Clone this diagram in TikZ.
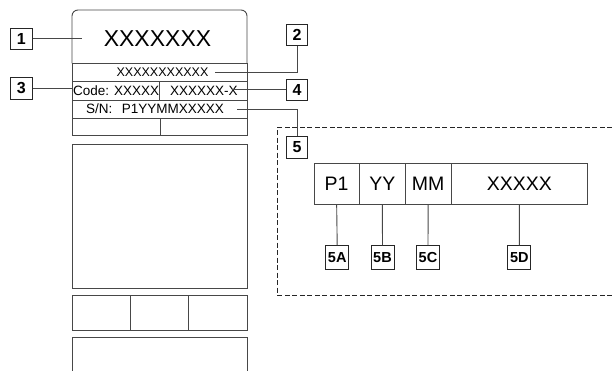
\documentclass[tikz,border=0pt]{standalone}
\usepackage{fontspec}
\setmainfont{Liberation Sans}
\begin{document}
\begin{tikzpicture}[x=1pt,y=-1pt,
  lc/.style={draw=black!72,line width=0.9pt},
  lab/.style={draw=black!85,line width=0.9pt,minimum width=21.5pt,minimum height=21.5pt,inner sep=0pt,font=\fontsize{16}{16}\selectfont\bfseries},
  sublab/.style={draw=black!85,line width=0.9pt,minimum width=23pt,minimum height=23.6pt,inner sep=0pt,font=\fontsize{14.5}{14.5}\selectfont\bfseries},
  cell/.style={draw=black!72,line width=0.9pt,minimum height=40.7pt,inner sep=0pt,font=\fontsize{19.5}{19.5}\selectfont},
  lead/.style={draw=black!72,line width=0.9pt},
  txt/.style={inner sep=0pt,anchor=base}]
\useasboundingbox (0,0) rectangle (612,371);
% main label plate
\draw[lc,rounded corners=6pt] (72,63.3) -- (72,10) -- (247,10) -- (247,63.3);
\draw[lc] (72,63.3) -- (72,135) -- (247,135) -- (247,63.3);
\draw[lc] (72,63.3) -- (247,63.3);
\draw[lc] (72,81.7) -- (247,81.7);
\draw[lc] (72,100) -- (247,100);
\draw[lc] (72,118.3) -- (247,118.3);
\draw[lc] (159.5,81.7) -- (159.5,100);
\draw[lc] (160,118.3) -- (160,135);
% texts
\node[txt,font=\fontsize{23}{23}\selectfont] (tbig) at (157.5,47) {XXXXXXX};
\node[txt,font=\fontsize{12.5}{12.5}\selectfont] (trow) at (162.5,76.6) {XXXXXXXXXXX};
\node[txt,font=\fontsize{13.5}{13.5}\selectfont,anchor=base west] (tcode) at (73,95.3) {Code: XXXXX};
\node[txt,font=\fontsize{13.5}{13.5}\selectfont,anchor=base west] (tver) at (170,95.3) {XXXXXX-X};
\node[txt,font=\fontsize{13.5}{13.5}\selectfont,anchor=base west] (tsn) at (86,113.6) {S/N:};
\node[txt,font=\fontsize{13.5}{13.5}\selectfont,anchor=base west] (tser) at (121.7,113.6) {P1YYMMXXXXX};
% lower boxes
\draw[lc] (72.3,144) rectangle (247,288);
\draw[lc] (72.3,295.7) rectangle (247,330);
\draw[lc] (130.3,295.7) -- (130.3,330);
\draw[lc] (188.7,295.7) -- (188.7,330);
\draw[lc] (72.3,371) -- (72.3,337.7) -- (247,337.7) -- (247,371);
% dashed detail frame
\draw[black!85,line width=0.8pt,dash pattern=on 5pt off 2.5pt] (612,127.3) -- (277.3,127.3) -- (277.3,295) -- (612,295);
% callout labels
\node[lab] (l1) at (21.3,38.8) {1};
\node[lab] (l2) at (297,35) {2};
\node[lab] (l3) at (21.3,88.5) {3};
\node[lab] (l4) at (297,89.9) {4};
\node[lab] (l5) at (297,147.3) {5};
\coordinate (c1) at (81.7,38.8);
\coordinate (c3) at (72,88.5);
\coordinate (c2) at (215,72.3);
\coordinate (c4) at (232,89.9);
\coordinate (c5) at (237,109);
\draw[lead] (l1.east) -- (c1);
\draw[lead] (l3.east) -- (c3);
\draw[lead] (c2) -| (l2.south);
\draw[lead] (c4) -- (l4.west);
\draw[lead] (c5) -| (l5.north);
% serial breakdown
\node[cell,minimum width=45.3pt] (p1) at (336.65,183.65) {P1};
\node[cell,minimum width=46pt] (yy) at (382.3,183.65) {YY};
\node[cell,minimum width=45.7pt] (mm) at (428.15,183.65) {MM};
\node[cell,minimum width=136.7pt] (xx) at (519.35,183.65) {XXXXX};
\node[sublab] (l5a) at (337.2,257.5) {5A};
\node[sublab] (l5b) at (382.5,257.5) {5B};
\node[sublab] (l5c) at (428,257.5) {5C};
\node[sublab] (l5d) at (519.3,257.5) {5D};
\draw[lead] (p1.south) -- (l5a.north);
\draw[lead] (yy.south) -- (l5b.north);
\draw[lead] (mm.south) -- (l5c.north);
\draw[lead] (xx.south) -- (l5d.north);
\end{tikzpicture}
\end{document}
